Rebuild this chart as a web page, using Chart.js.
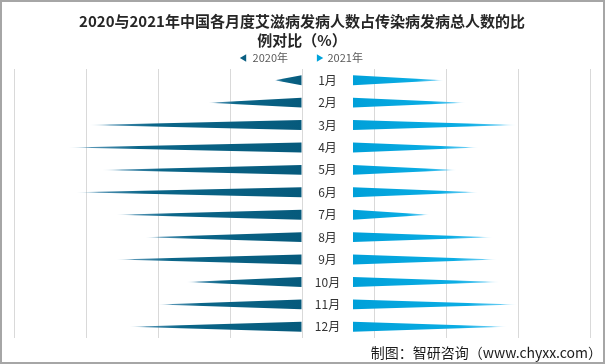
<!DOCTYPE html>
<html><head><meta charset="utf-8">
<script src="https://cdn.jsdelivr.net/npm/chart.js@4"></script>
<style>html,body{margin:0;padding:0;background:#fff}canvas{display:block}</style>
</head><body>
<canvas id="c" width="605" height="364"></canvas>
<script>
// ---- data (share of AIDS cases in all notifiable infectious disease cases, %) ----
const months = ['1月','2月','3月','4月','5月','6月','7月','8月','9月','10月','11月','12月'];
const share2020 = [0.19, 0.65, 1.48, 1.62, 1.39, 1.57, 1.29, 1.09, 1.29, 0.80, 1.00, 1.20];
const share2021 = [0.63, 0.78, 1.14, 0.87, 0.72, 0.87, 0.53, 0.97, 1.00, 1.02, 1.14, 1.07];
const seriesNames = ['2020年', '2021年'];
const titleLines = ['2020与2021年中国各月度艾滋病发病人数占传染病发病总人数的比', '例对比（%）'];
const sourceText = '制图：智研咨询（www.chyxx.com）';

// ---- layout / style constants ----
const GAP = 0.354;              // empty band in the middle for month labels (axis units)
const FONT = '"Noto Sans CJK SC", "Noto Sans", sans-serif';
const COL2020 = '#0a5f82';
const COL2021 = '#00a3db';

const triangleBars = {
  id: 'triangleBars',
  beforeDatasetDraw(chart, args) {
    const ctx = chart.ctx;
    const left = args.index === 0;
    ctx.save();
    args.meta.data.forEach(el => {
      const p = el.getProps(['x', 'y', 'base', 'height'], true);
      const g = ctx.createLinearGradient(p.base, 0, p.x, 0);
      if (left) {
        g.addColorStop(0, '#065a7c');
        g.addColorStop(0.7, '#0b6689');
        g.addColorStop(0.9, 'rgba(40,120,160,0.8)');
        g.addColorStop(1, 'rgba(130,180,205,0.2)');
      } else {
        g.addColorStop(0, '#00a0d9');
        g.addColorStop(0.7, '#0badE4');
        g.addColorStop(0.9, 'rgba(60,190,240,0.8)');
        g.addColorStop(1, 'rgba(160,222,250,0.2)');
      }
      ctx.fillStyle = g;
      ctx.beginPath();
      ctx.moveTo(p.base, p.y - p.height / 2);
      ctx.lineTo(p.x, p.y);
      ctx.lineTo(p.base, p.y + p.height / 2);
      ctx.closePath();
      ctx.fill();
    });
    ctx.restore();
    return false;
  }
};

const decorations = {
  id: 'decorations',
  beforeDraw(chart) {
    const ctx = chart.ctx;
    ctx.save();
    ctx.fillStyle = '#ffffff';
    ctx.fillRect(0, 0, chart.width, chart.height);
    ctx.restore();
  },
  afterDatasetsDraw(chart) {
    const ctx = chart.ctx;
    const xs = chart.scales.x, ys = chart.scales.y;
    ctx.save();
    ctx.font = '12px ' + FONT;
    ctx.fillStyle = '#333333';
    ctx.textAlign = 'center';
    ctx.textBaseline = 'middle';
    const cx = xs.getPixelForValue(GAP / 2);
    months.forEach((m, i) => ctx.fillText(m, cx, ys.getPixelForValue(i)));
    ctx.restore();
  },
  afterDraw(chart) {
    const ctx = chart.ctx;
    ctx.save();
    ctx.font = '14px ' + FONT;
    ctx.fillStyle = '#1a1a1a';
    ctx.textAlign = 'right';
    ctx.textBaseline = 'middle';
    ctx.fillText(sourceText, 602, 353);
    ctx.strokeStyle = '#a6a6a6';
    ctx.lineWidth = 2;
    ctx.strokeRect(1, 1, chart.width - 2, chart.height - 2);
    ctx.restore();
  }
};

new Chart(document.getElementById('c'), {
  type: 'bar',
  data: {
    labels: months,
    datasets: [
      { label: seriesNames[0], data: share2020.map(v => -v), backgroundColor: COL2020,
        grouped: false, barPercentage: 0.44, categoryPercentage: 1 },
      { label: seriesNames[1], data: share2021.map(v => [GAP, GAP + v]), backgroundColor: COL2021,
        grouped: false, barPercentage: 0.44, categoryPercentage: 1 }
    ]
  },
  options: {
    indexAxis: 'y',
    responsive: false,
    animation: false,
    devicePixelRatio: 1,
    layout: { padding: { left: 14, right: 15, top: 0, bottom: 26 } },
    scales: {
      x: {
        min: -2, max: 2,
        ticks: { display: false, stepSize: 0.5 },
        grid: { color: '#d9d9d9', drawTicks: false },
        border: { display: false }
      },
      y: { display: false, offset: true }
    },
    plugins: {
      title: {
        display: true,
        text: titleLines,
        color: '#262626',
        font: { family: FONT, size: 15, weight: 'bold', lineHeight: 1.25 },
        padding: { top: 12, bottom: -25 }
      },
      legend: {
        display: true,
        position: 'top',
        maxHeight: 44.5,
        labels: {
          usePointStyle: true,
          boxWidth: 6, boxHeight: 6,
          padding: 28,
          color: '#595959',
          font: { family: FONT, size: 11 },
          generateLabels(chart) {
            return seriesNames.map((n, i) => ({
              text: n,
              fillStyle: i === 0 ? COL2020 : COL2021,
              strokeStyle: i === 0 ? COL2020 : COL2021,
              lineWidth: 0,
              pointStyle: 'triangle',
              rotation: i === 0 ? -90 : 90,
              fontColor: '#595959',
              hidden: false,
              datasetIndex: i
            }));
          }
        }
      },
      tooltip: { enabled: false }
    }
  },
  plugins: [triangleBars, decorations]
});
</script>
</body></html>
